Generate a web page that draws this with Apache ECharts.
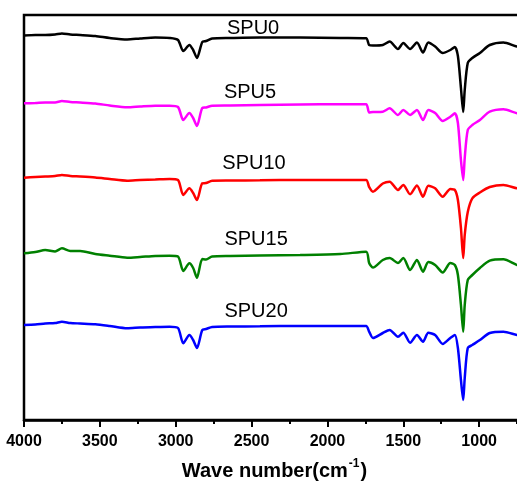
<!DOCTYPE html>
<html>
<head>
<meta charset="utf-8">
<script src="https://cdn.jsdelivr.net/npm/echarts@6/dist/echarts.min.js"></script>
<style>
html,body{margin:0;padding:0;background:#fff;}
#chart{width:517px;height:482px;}
</style>
</head>
<body>
<div id="chart"></div>
<script>
// Wavenumbers (cm-1), shared by all spectra
var wavenumbers = [4000,3925,3860,3795,3750,3695,3630,3530,3435,3320,3235,3135,3040,2985,2950,2910,2885,2860,2825,2800,2760,2640,2445,2180,1915,1745,1725,1700,1635,1590,1535,1500,1455,1410,1370,1335,1290,1240,1190,1160,1140,1120,1105,1095,1075,1045,995,930,840,750,700];

// Offset transmittance (arbitrary units) for each sample
var spu0 = [384.5,385,385,385.5,386.5,385.5,385,384,382,380.5,381.5,382.5,382,380,369,375,370,362,378,379,381.5,382,382.5,382.5,382,381.7,375,374.5,375,378.5,371,377,371,377.5,367.5,377.5,373.5,367,370,373,364,332,308,330,357,362,367,375,377.5,373.5,373];
var spu5 = [316.7,317,317.5,317.5,319,318,317.5,316.5,314.5,312.7,313.5,314.3,314.3,313,300,307,302,294,312,312.5,314.3,314.5,315,315.5,315.7,315.7,307.5,308,308.3,311.7,305,310,305,310,300,310,307,299,303.3,306.7,297,260,240,262,290,295,300,308.3,310.7,306.7,306];
var spu10 = [242.3,243,243.5,244,245,244,243.5,242.5,241,239.3,240,240.5,241,240,225,231.7,227,220,236.7,237,239.3,239.5,239.7,240,240,240,233,228.3,236.5,238.3,230,235,225.7,234.5,223.3,234.3,231.7,223.3,231,230,220,192,162,185,208,221.7,227.5,233,235,231.7,231];
var spu15 = [166.7,168,170,168.5,171.7,169,169,166,164.3,162.3,163,164,164.3,163.5,149,156.7,152,142.3,161,160.5,163.5,164,164.5,165,166,168.3,157,152.5,160,162,157,162,150,160,148.3,158,155,147.5,157,155,145,115,88.3,115,140,145,152,159.3,160.7,155,154];
var spu20 = [95,95.5,96.5,97,98.3,97,96.5,95.7,94,91.7,92.5,93,93.3,92,76.7,85,80,72,90,91,93,93.5,93.7,94,94,94,88.3,82,87,90,83.3,87.3,77.3,85,78.3,87.3,85,76,82,85,72,40,20,42,72,75,80,87,88.3,85,84];

var seriesNames = ['SPU0','SPU5','SPU10','SPU15','SPU20'];
var seriesColors = ['#000000','#FF00FF','#FF0000','#008000','#0000FF'];
var seriesValues = [spu0, spu5, spu10, spu15, spu20];

// Label anchor positions (data coordinates)
var labelWn = [2490, 2510, 2484, 2470, 2470];
var labelVal = [392, 327.5, 256.5, 181, 109];

var FONT = '"Liberation Sans", Arial, Helvetica, sans-serif';

var series = seriesNames.map(function (name, i) {
  var vals = seriesValues[i];
  return {
    name: name,
    type: 'line',
    data: wavenumbers.map(function (w, j) { return [w, vals[j]]; }),
    showSymbol: false,
    symbol: 'none',
    smooth: 0.25,
    lineStyle: { color: seriesColors[i], width: 2.5 },
    itemStyle: { color: seriesColors[i] },
    clip: true,
    silent: true,
    markPoint: {
      symbol: 'circle',
      symbolSize: 0,
      silent: true,
      label: {
        show: true,
        position: 'inside',
        formatter: name,
        color: '#000',
        fontFamily: FONT,
        fontSize: 20,
        fontWeight: 'normal'
      },
      data: [{ coord: [labelWn[i], labelVal[i]] }]
    }
  };
});

var chart = echarts.init(document.getElementById('chart'), null, { renderer: 'canvas' });
chart.setOption({
  animation: false,
  backgroundColor: '#ffffff',
  grid: {
    left: 24, top: 15, width: 531, height: 405,
    outerBoundsMode: 'none',
    containLabel: false,
    show: true, borderColor: '#000', borderWidth: 2.5, backgroundColor: 'transparent'
  },
  xAxis: {
    type: 'value',
    inverse: true,
    min: 500,
    max: 4000,
    interval: 500,
    axisLine: { show: true, lineStyle: { color: '#000', width: 2.5 } },
    axisTick: { show: true, inside: false, length: 7, lineStyle: { color: '#000', width: 2 } },
    minorTick: { show: true, splitNumber: 2, length: 4, lineStyle: { color: '#000', width: 2 } },
    splitLine: { show: false },
    minorSplitLine: { show: false },
    axisLabel: {
      color: '#000', fontFamily: FONT, fontSize: 16, fontWeight: 'bold', margin: 14,
      formatter: function (v) { return String(v); }
    },
    name: '{a|Wave number(cm}{s|-1}{a|)}',
    nameLocation: 'middle',
    nameGap: 38,
    nameTextStyle: {
      padding: [0, 30, 0, 0],
      rich: {
        a: { fontFamily: FONT, fontSize: 20, fontWeight: 'bold', color: '#000', lineHeight: 23, verticalAlign: 'bottom' },
        s: { fontFamily: FONT, fontSize: 12, fontWeight: 'bold', color: '#000', lineHeight: 23, verticalAlign: 'top', padding: [0, 1, 0, 1] }
      }
    }
  },
  yAxis: {
    type: 'value',
    min: 0,
    max: 405,
    axisLine: { show: false },
    axisTick: { show: false },
    axisLabel: { show: false },
    splitLine: { show: false }
  },
  series: series
});
</script>
</body>
</html>
